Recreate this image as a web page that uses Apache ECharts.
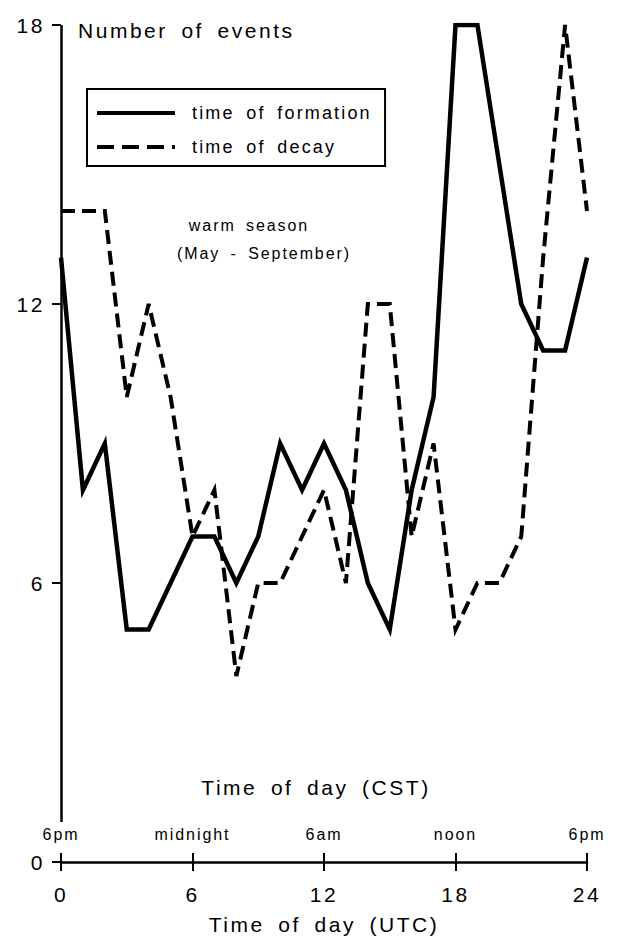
<!DOCTYPE html>
<html>
<head>
<meta charset="utf-8">
<script src="https://cdn.jsdelivr.net/npm/echarts@6/dist/echarts.min.js"></script>
<style>
  html, body { margin: 0; padding: 0; background: #fff; }
  #chart { width: 618px; height: 949px; }
  /* wide typewriter-like spacing of the printed figure */
  #chart text { letter-spacing: 0.12em; word-spacing: 0.25em; }
</style>
</head>
<body>
<div id="chart"></div>
<script>
// Hour of day (UTC), one sample per hour
const hoursUTC = [0, 1, 2, 3, 4, 5, 6, 7, 8, 9, 10, 11, 12, 13, 14, 15, 16, 17, 18, 19, 20, 21, 22, 23, 24];
// Number of events by hour
const formationCounts = [13, 8, 9, 5, 5, 6, 7, 7, 6, 7, 9, 8, 9, 8, 6, 5, 8, 10, 18, 18, 15, 12, 11, 11, 13];
const decayCounts     = [14, 14, 14, 10, 12, 10, 7, 8, 4, 6, 6, 7, 8, 6, 12, 12, 7, 9, 5, 6, 6, 7, 13, 18, 14];
// Axis ticks
const utcTicks = [0, 6, 12, 18, 24];
const cstTickLabels = ['6pm', 'midnight', '6am', 'noon', '6pm'];
const countMax = 18;
const countStep = 6;
// the vertical axis line stops short of the CST labels
const yAxisLineStart = 0.86;

const FONT = '"Liberation Sans", Arial, Helvetica, sans-serif';
const INK = '#000';
const DASH = [14, 7];

const pair = (xs, ys) => xs.map((x, i) => [x, ys[i]]);

const chart = echarts.init(document.getElementById('chart'), null, { renderer: 'svg' });

chart.setOption({
  animation: false,
  backgroundColor: '#fff',
  textStyle: { fontFamily: FONT, color: INK },
  grid: { left: 61, right: 31, top: 25, bottom: 87, containLabel: false },
  legend: {
    data: [
      { name: 'time of formation', lineStyle: { width: 4, type: 'solid', color: INK } },
      { name: 'time of decay', lineStyle: { width: 4, type: [17, 8], color: INK } }
    ],
    orient: 'vertical',
    left: 87,
    top: 89,
    padding: [15, 59, 10, 8],
    itemWidth: 78,
    itemHeight: 14,
    itemGap: 16,
    borderColor: INK,
    borderWidth: 2,
    itemStyle: { opacity: 0 },
    textStyle: { fontSize: 18, color: INK, fontFamily: FONT, padding: [0, 0, 0, 12] }
  },
  xAxis: [
    {
      type: 'value',
      min: 0, max: 24, interval: 6,
      position: 'bottom',
      axisLine: { show: true, lineStyle: { color: INK, width: 2.5 } },
      axisTick: { show: true, length: 9, lineStyle: { color: INK, width: 2 } },
      axisLabel: { fontSize: 21, color: INK, margin: 22, fontFamily: FONT },
      splitLine: { show: false },
      name: 'Time of day (UTC)',
      nameLocation: 'middle',
      nameGap: 52,
      nameTextStyle: { fontSize: 21, color: INK, fontFamily: FONT }
    },
    {
      type: 'value',
      min: 0, max: 24, interval: 6,
      position: 'bottom',
      axisLine: { show: false },
      axisTick: { show: true, inside: true, length: 9, lineStyle: { color: INK, width: 2 } },
      axisLabel: {
        inside: true, fontSize: 16, color: INK, margin: 20, fontFamily: FONT,
        formatter: v => cstTickLabels[utcTicks.indexOf(v)]
      },
      splitLine: { show: false }
    }
  ],
  yAxis: {
    type: 'value',
    min: 0, max: countMax, interval: countStep,
    axisLine: { show: false },
    axisTick: { show: true, length: 9, lineStyle: { color: INK, width: 2 } },
    axisLabel: { fontSize: 21, color: INK, margin: 16, fontFamily: FONT },
    splitLine: { show: false }
  },
  graphic: [
    { type: 'text', x: 78, y: 30, style: { text: 'Number of events', fontSize: 21, fontFamily: FONT, fill: INK, align: 'left', verticalAlign: 'middle' } },
    { type: 'text', x: 249, y: 225, style: { text: 'warm season', fontSize: 16, fontFamily: FONT, fill: INK, align: 'center', verticalAlign: 'middle' } },
    { type: 'text', x: 264, y: 253, style: { text: '(May - September)', fontSize: 16, fontFamily: FONT, fill: INK, align: 'center', verticalAlign: 'middle' } },
    { type: 'text', x: 316, y: 787, style: { text: 'Time of day (CST)', fontSize: 21, fontFamily: FONT, fill: INK, align: 'center', verticalAlign: 'middle' } }
  ],
  series: [
    {
      name: 'time of formation',
      type: 'line',
      xAxisIndex: 0,
      data: pair(hoursUTC, formationCounts),
      symbol: 'none',
      lineStyle: { color: INK, width: 4.5, join: 'miter', miterLimit: 4 },
      itemStyle: { color: INK },
      markLine: {
        silent: true,
        symbol: ['none', 'none'],
        label: { show: false },
        lineStyle: { type: 'solid', color: INK, width: 2.5 },
        data: [[{ coord: [0, yAxisLineStart] }, { coord: [0, countMax] }]]
      }
    },
    {
      name: 'time of decay',
      type: 'line',
      xAxisIndex: 0,
      data: pair(hoursUTC, decayCounts),
      symbol: 'none',
      lineStyle: { color: INK, width: 4, type: DASH, join: 'miter', miterLimit: 4 },
      itemStyle: { color: INK }
    }
  ]
});
</script>
</body>
</html>
